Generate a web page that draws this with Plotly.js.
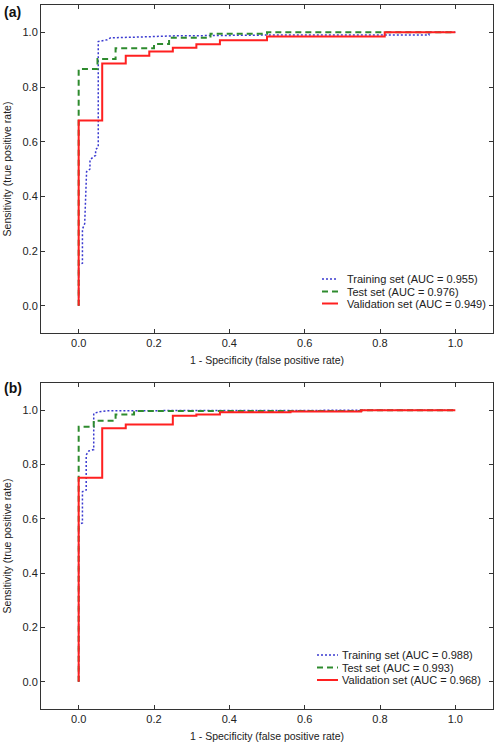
<!DOCTYPE html>
<html>
<head>
<meta charset="utf-8">
<script src="https://cdn.plot.ly/plotly-3.0.1.min.js"></script>
<style>html,body{margin:0;padding:0;background:#fff;}#chart{width:498px;height:750px;}</style>
</head>
<body>
<div id="chart"></div>
<script>
// ---------- Panel (a) ----------
const a_train_x = [0, 0, 0.01, 0.01, 0.016, 0.021, 0.021, 0.03, 0.03, 0.045, 0.045, 0.052, 0.052, 0.076, 0.085, 0.164, 0.25, 0.5, 0.93, 0.93, 1.0];
const a_train_y = [0, 0.15, 0.155, 0.28, 0.30, 0.45, 0.49, 0.50, 0.534, 0.55, 0.571, 0.58, 0.966, 0.973, 0.98, 0.983, 0.987, 0.99, 0.99, 1.0, 1.0];
const a_test_x = [0, 0, 0.05, 0.098, 0.2, 0.24, 0.35, 0.5, 1.0];
const a_test_y = [0, 0.866, 0.902, 0.942, 0.957, 0.98, 0.995, 1.0, 1.0];
const a_val_x = [0, 0, 0.0625, 0.125, 0.1875, 0.25, 0.3125, 0.375, 0.5, 0.8125, 1.0];
const a_val_y = [0, 0.677, 0.886, 0.914, 0.93, 0.944, 0.956, 0.971, 0.985, 1.0, 1.0];
const a_labels = ["Training set (AUC = 0.955)", "Test set (AUC = 0.976)", "Validation set (AUC = 0.949)"];

// ---------- Panel (b) ----------
const b_train_x = [0, 0, 0.01, 0.01, 0.02, 0.02, 0.027, 0.04, 0.04, 0.054, 0.076, 0.75, 0.75, 1.0];
const b_train_y = [0, 0.58, 0.585, 0.70, 0.706, 0.835, 0.85, 0.855, 0.988, 0.994, 0.998, 0.998, 1.0, 1.0];
const b_test_x = [0, 0, 0.04, 0.098, 0.147, 0.75, 1.0];
const b_test_y = [0, 0.939, 0.961, 0.984, 0.997, 1.0, 1.0];
const b_val_x = [0, 0, 0.0625, 0.125, 0.25, 0.3125, 0.375, 0.5625, 0.75, 1.0];
const b_val_y = [0, 0.751, 0.933, 0.947, 0.979, 0.984, 0.992, 0.995, 1.0, 1.0];
const b_labels = ["Training set (AUC = 0.988)", "Test set (AUC = 0.993)", "Validation set (AUC = 0.968)"];

const tickVals = [0, 0.2, 0.4, 0.6, 0.8, 1.0];
const tickText = ["0.0", "0.2", "0.4", "0.6", "0.8", "1.0"];
const panelTags = ["(a)", "(b)"];
const xTitle = "1 - Specificity (false positive rate)";
const yTitle = "Sensitivity (true positive rate)";

const W = 498, H = 750;
const FONT = "Liberation Sans, Arial, sans-serif";
const C_BLUE = "#3a3ad0", C_GREEN = "#2e8b2e", C_RED = "#ff2020";
const styles = [
  {color: C_BLUE, width: 1.5, dash: "2px,2px", shape: "linear"},
  {color: C_GREEN, width: 2, dash: "6px,4px", shape: "hv"},
  {color: C_RED, width: 2, dash: "solid", shape: "hv"}
];

function tr(x, y, i, xa, ya, name) {
  const s = styles[i];
  return {x: x, y: y, xaxis: xa, yaxis: ya, type: "scatter", mode: "lines", name: name,
    line: {color: s.color, width: s.width, dash: s.dash, shape: s.shape}, showlegend: false, hoverinfo: "skip"};
}

const data = [
  tr(a_train_x, a_train_y, 0, "x", "y", a_labels[0]),
  tr(a_test_x, a_test_y, 1, "x", "y", a_labels[1]),
  tr(a_val_x, a_val_y, 2, "x", "y", a_labels[2]),
  tr(b_train_x, b_train_y, 0, "x2", "y2", b_labels[0]),
  tr(b_test_x, b_test_y, 1, "x2", "y2", b_labels[1]),
  tr(b_val_x, b_val_y, 2, "x2", "y2", b_labels[2])
];

function px2x(p) { return p / W; }
function px2y(p) { return 1 - p / H; }

function xax(anchor, domain) {
  return {domain: domain, anchor: anchor, range: [-0.1, 1.1], tickvals: tickVals, ticktext: tickText,
    ticks: "inside", ticklen: 4, tickcolor: "#333", showline: true, linecolor: "#333", linewidth: 1,
    mirror: "ticks", showgrid: false, zeroline: false, tickfont: {family: FONT, size: 11, color: "#222"},
    title: {text: xTitle, font: {family: FONT, size: 10.5, color: "#222"}, standoff: 8}};
}
function yax(anchor, domain) {
  return {domain: domain, anchor: anchor, range: [-0.1, 1.1], tickvals: tickVals, ticktext: tickText,
    ticks: "inside", ticklen: 4, tickcolor: "#333", showline: true, linecolor: "#333", linewidth: 1,
    mirror: "ticks", showgrid: false, zeroline: false, tickfont: {family: FONT, size: 11, color: "#222"},
    title: {text: yTitle, font: {family: FONT, size: 10.5, color: "#222"}, standoff: 8}};
}

const plotX = [px2x(41), px2x(493)];
const aY = [px2y(333), px2y(5)];
const bY = [px2y(709), px2y(383)];

// legend (drawn as text + sample lines)
const annotations = [];
const shapes = [];
function legend(labels, sx0, sx1, tx, rows) {
  labels.forEach((lab, i) => {
    annotations.push({xref: "paper", yref: "paper", x: px2x(tx), y: px2y(rows[i]), xanchor: "left", yanchor: "middle",
      text: lab, showarrow: false, font: {family: FONT, size: 11, color: "#222"}});
    shapes.push({type: "line", xref: "paper", yref: "paper", x0: px2x(sx0), x1: px2x(sx1), y0: px2y(rows[i]), y1: px2y(rows[i]),
      line: {color: styles[i].color, width: styles[i].width, dash: styles[i].dash}});
  });
}
legend(a_labels, 322, 338, 345, [279, 291.5, 303.5]);
legend(b_labels, 317, 338, 340, [655, 667.5, 680]);

annotations.push({xref: "paper", yref: "paper", x: px2x(2), y: px2y(12), xanchor: "left", yanchor: "middle",
  text: "<b>" + panelTags[0] + "</b>", showarrow: false, font: {family: FONT, size: 14, color: "#111"}});
annotations.push({xref: "paper", yref: "paper", x: px2x(2), y: px2y(388), xanchor: "left", yanchor: "middle",
  text: "<b>" + panelTags[1] + "</b>", showarrow: false, font: {family: FONT, size: 14, color: "#111"}});

const layout = {
  width: W, height: H, margin: {l: 0, r: 0, t: 0, b: 0}, paper_bgcolor: "#fff", plot_bgcolor: "#fff",
  showlegend: false,
  xaxis: xax("y", plotX), yaxis: yax("x", aY),
  xaxis2: xax("y2", plotX), yaxis2: yax("x2", bY),
  annotations: annotations, shapes: shapes
};

Plotly.newPlot("chart", data, layout, {displayModeBar: false, staticPlot: true});
</script>
</body>
</html>
